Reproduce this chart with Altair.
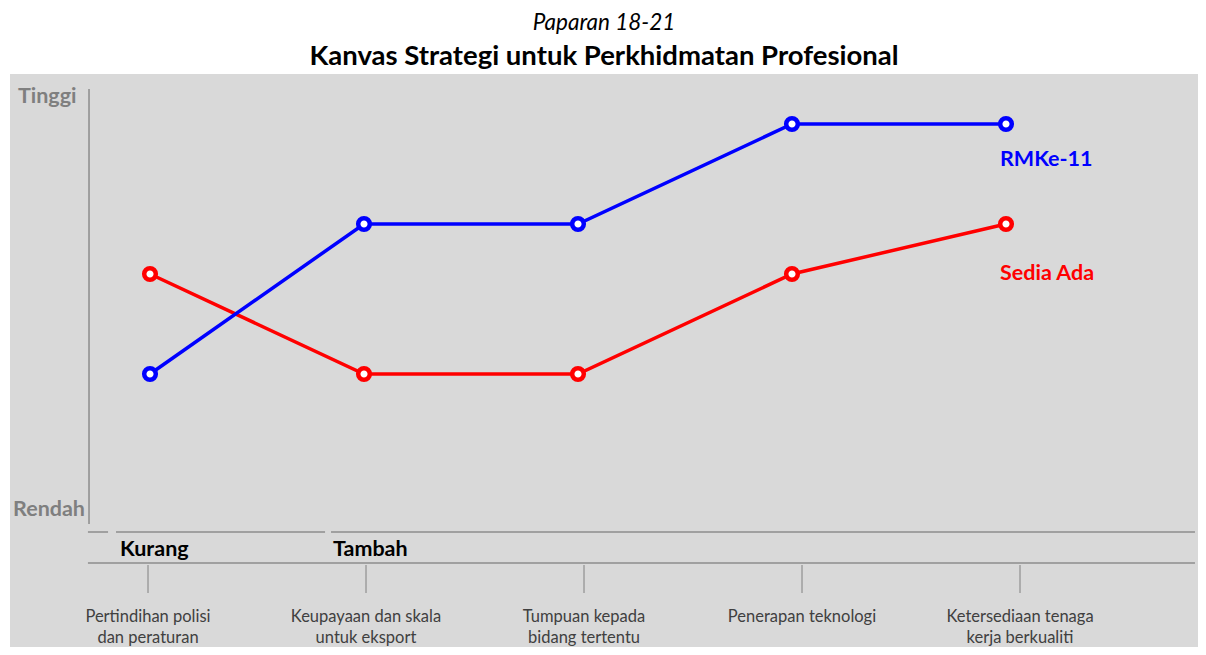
import altair as alt
import pandas as pd

# ---- data ----
categories = [
    "Pertindihan polisi\ndan peraturan",
    "Keupayaan dan skala\nuntuk eksport",
    "Tumpuan kepada\nbidang tertentu",
    "Penerapan teknologi",
    "Ketersediaan tenaga\nkerja berkualiti",
]
rmke11 = [3, 6, 6, 8, 8]
sedia_ada = [5, 3, 3, 5, 6]
series_names = ["RMKe-11", "Sedia Ada"]
series_colors = ["#0000ff", "#ff0000"]
level_labels = ["Tinggi", "Rendah"]
group_labels = ["Kurang", "Tambah"]

FONT = "Lato"

rows = []
for i in range(len(categories)):
    rows.append({"idx": i, "v": sedia_ada[i], "series": series_names[1]})
for i in range(len(categories)):
    rows.append({"idx": i, "v": rmke11[i], "series": series_names[0]})
df = pd.DataFrame(rows)

cat_df = pd.DataFrame({"idx": list(range(len(categories))), "label": categories})

X = alt.Scale(domain=[-0.65421, 4.89720])
XB = alt.Scale(domain=[-0.63303, 4.81651])
Y = alt.Scale(domain=[-2.46, 9])


def xq(field="x", scale=X):
    return alt.X(f"{field}:Q", scale=scale, axis=None)


def yq(field="v"):
    return alt.Y(f"{field}:Q", scale=Y, axis=None)


cscale = alt.Scale(domain=series_names, range=series_colors)
color = alt.Color("series:N", scale=cscale, legend=None)

layers = []

# structural rules
vaxis = pd.DataFrame({"x": [-0.285], "y": [0.0], "y2": [8.7]})
layers.append(
    alt.Chart(vaxis).mark_rule(color="#808080", strokeWidth=1.3).encode(
        x=xq("x"), y=yq("y"), y2="y2:Q"
    )
)
hsegs = pd.DataFrame({
    "x": [-0.290, -0.159, 0.846, -0.290],
    "x2": [-0.196, 0.818, 4.883, 4.883],
    "y": [-0.16, -0.16, -0.16, -0.78],
})
layers.append(
    alt.Chart(hsegs).mark_rule(color="#8c8c8c", strokeWidth=1.5).encode(
        x=xq("x"), x2="x2:Q", y=yq("y")
    )
)

# level labels
lvl = pd.DataFrame({"x": [-0.617, -0.640], "v": [8.54, 0.28], "t": level_labels})
layers.append(
    alt.Chart(lvl).mark_text(align="left", baseline="middle", font=FONT, fontSize=21.5,
                             fontWeight="bold", color="#7f7f7f").encode(
        x=xq("x"), y=yq("v"), text="t:N")
)

# group labels
grp = pd.DataFrame({"x": [-0.140, 0.855], "v": [-0.52, -0.52], "t": group_labels})
layers.append(
    alt.Chart(grp).mark_text(align="left", baseline="middle", font=FONT, fontSize=21.5,
                             fontWeight="bold", color="black").encode(
        x=xq("x"), y=yq("v"), text="t:N")
)

# series lines and points (red under blue)
for name in [series_names[1], series_names[0]]:
    base = alt.Chart(df).transform_filter(alt.datum.series == name)
    layers.append(base.mark_line(strokeWidth=3.5).encode(x=xq("idx"), y=yq("v"), color=color))
    layers.append(base.mark_point(filled=False, fill="white", size=135, strokeWidth=4.5, opacity=1).encode(
        x=xq("idx"), y=yq("v"), stroke=alt.Stroke("series:N", scale=cscale, legend=None)))

# series labels
sl = pd.DataFrame({"x": [3.972, 3.972], "v": [7.28, 5.0], "series": series_names})
layers.append(
    alt.Chart(sl).mark_text(align="left", baseline="middle", font=FONT, fontSize=21.5,
                            fontWeight="bold").encode(
        x=xq("x"), y=yq("v"), text="series:N", color=color)
)

# category ticks + labels (own x scale)
tick_base = alt.Chart(cat_df).transform_calculate(t0="-0.82", t1="-1.38", ty="-1.69")
layers.append(
    tick_base.mark_rule(color="#808080", strokeWidth=1).encode(
        x=alt.X("idx:Q", scale=XB, axis=None), y=alt.Y("t0:Q", scale=Y, axis=None), y2="t1:Q")
)
layers.append(
    tick_base.mark_text(align="center", baseline="top", font=FONT, fontSize=16.5,
                        color="#404040", lineBreak="\n", lineHeight=21).encode(
        x=alt.X("idx:Q", scale=XB, axis=None), y=alt.Y("ty:Q", scale=Y, axis=None), text="label:N")
)

chart = alt.layer(*layers).resolve_scale(x="independent").properties(
    width=1188,
    height=573,
    autosize="none",
    background="white",
    padding={"left": 2, "top": 66, "right": 0, "bottom": 0},
    title=alt.TitleParams(
        text="Paparan 18-21",
        subtitle="Kanvas Strategi untuk Perkhidmatan Profesional",
        font=FONT, fontSize=22.5, fontStyle="italic", fontWeight="normal", color="black",
        subtitleFont=FONT, subtitleFontSize=27.5, subtitleFontWeight="bold", subtitleColor="black",
        anchor="middle", offset=4, subtitlePadding=8,
    ),
).configure_view(fill="#d9d9d9", strokeWidth=0)

chart.save("out.html", embed_options={"renderer": "svg", "actions": False})
